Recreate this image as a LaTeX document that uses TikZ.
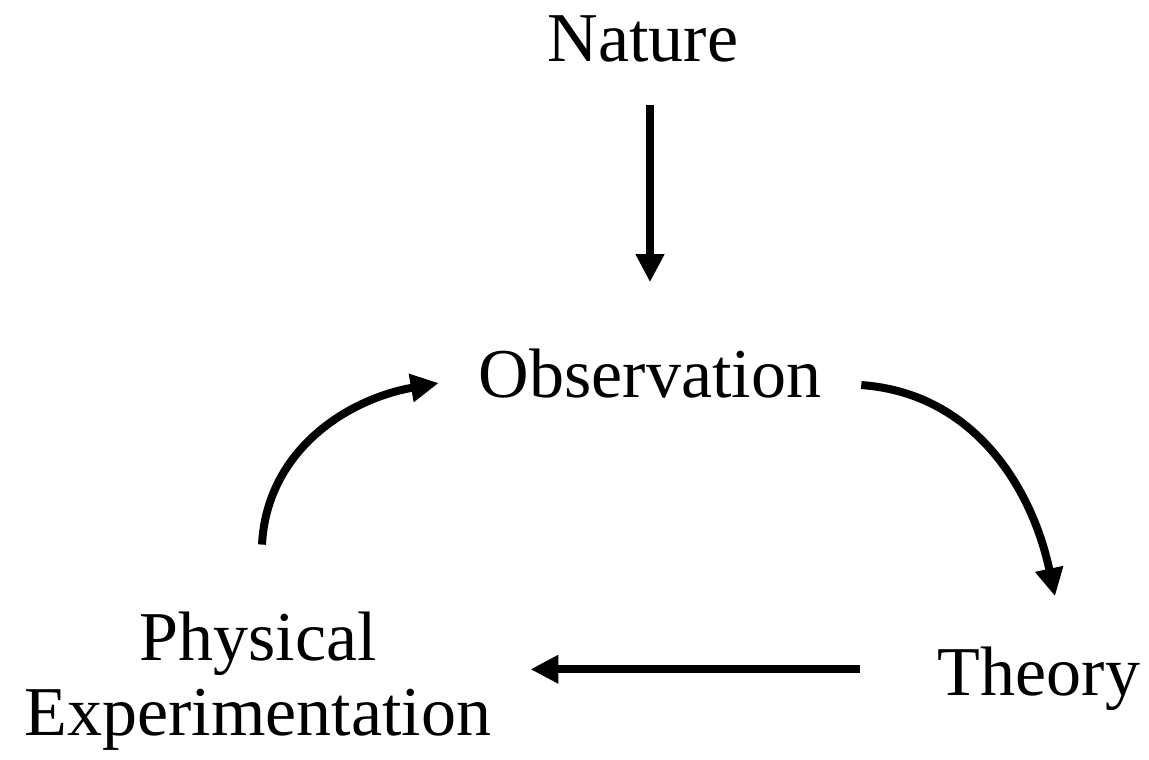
\documentclass[tikz,border=0pt]{standalone}
\usepackage{fontspec}
\setmainfont{Liberation Serif}
\usetikzlibrary{arrows.meta, calc}
\tikzset{>={Triangle[length=28pt,width=27pt]}}

\begin{document}
\begin{tikzpicture}[x=1pt, y=1pt, line join = round,
    lbl/.style = {inner sep=0pt, font=\fontsize{70}{75}\selectfont},
    arr/.style = {->, line width=8pt}]
    \useasboundingbox (0,0) rectangle (1149,-760);
    \node[lbl, anchor=base] (nature) at (643,-62) {Nature};
    \node[lbl, anchor=base] (obs) at (650,-397) {Observation};
    \node[lbl, anchor=base] (theory) at (1039,-695) {Theory};
    \node[lbl, align=center] (phys) at (258,-681) {Physical\\Experimentation};
    \draw[arr] ([xshift=7pt,yshift=-42pt]nature.south) -- ([yshift=66pt]obs.north);
    \draw[arr] ([xshift=40pt,yshift=-12pt]obs.east) to[out=-4, in=102] ([xshift=16pt,yshift=50pt]theory.north);
    \draw[arr] ([xshift=-78pt,yshift=9pt]theory.west) -- ($(phys.east |- theory.west)+(39,9)$);
    \draw[arr] ([xshift=4pt,yshift=67pt]phys.north) to[out=87, in=190] ([xshift=-40pt,yshift=-10pt]obs.west);
\end{tikzpicture}
\end{document}
